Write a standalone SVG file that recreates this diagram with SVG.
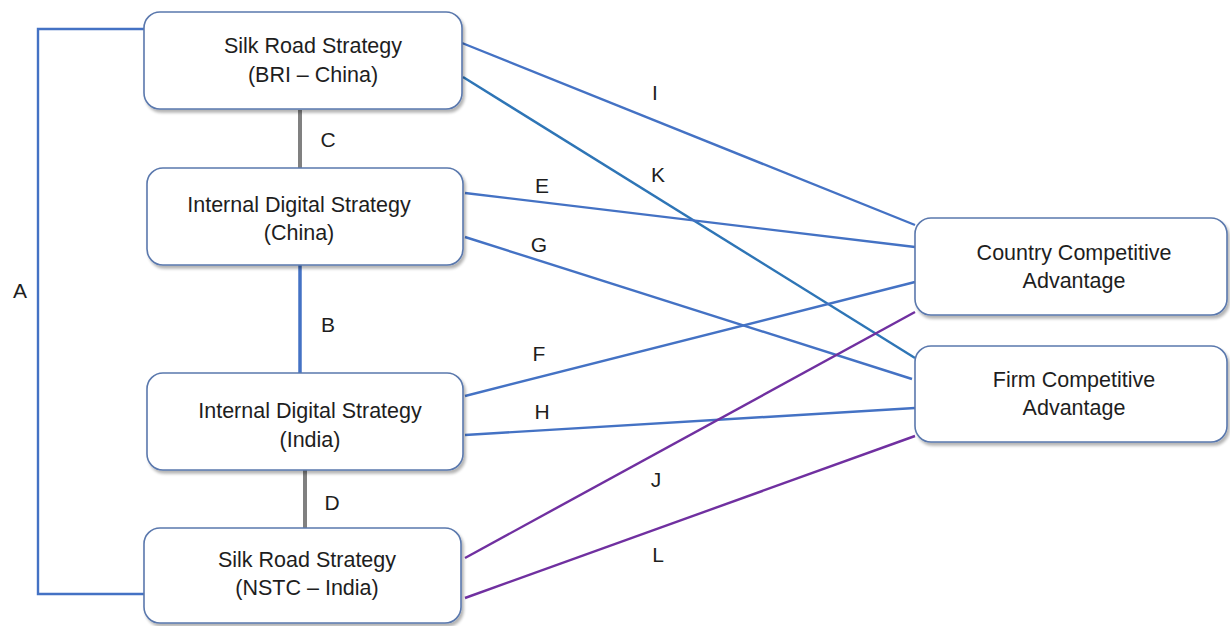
<svg xmlns="http://www.w3.org/2000/svg" width="1230" height="626" viewBox="0 0 1230 626">
  <style>
    .box { fill: #ffffff; stroke: #5a78ad; stroke-width: 1.6; filter: url(#shadow); }
    .node-text { font-family: "Liberation Sans", Arial, sans-serif; font-size: 21.5px; fill: #1e1e1e; text-anchor: middle; }
    .lbl { font-family: "Liberation Sans", Arial, sans-serif; font-size: 21px; fill: #1e1e1e; text-anchor: middle; }
    .blue { stroke: #4472c4; stroke-width: 2.4; fill: none; }
    .teal { stroke: #2e75b6; stroke-width: 2.4; fill: none; }
    .purple { stroke: #7030a0; stroke-width: 2.4; fill: none; }
    .gray { stroke: #808080; stroke-width: 4; fill: none; }
    .thick-blue { stroke: #4472c4; stroke-width: 3.5; fill: none; }
  </style>
  <defs>
    <filter id="shadow" x="-5%" y="-5%" width="115%" height="125%">
      <feGaussianBlur in="SourceAlpha" stdDeviation="1.5"/>
      <feOffset dx="2" dy="3" result="off"/>
      <feComponentTransfer><feFuncA type="linear" slope="0.3"/></feComponentTransfer>
      <feMerge><feMergeNode/><feMergeNode in="SourceGraphic"/></feMerge>
    </filter>
  </defs>

  <!-- connectors -->
  <g id="connectors">
    <polyline class="blue" points="144,29 38,29 38,594 144,594"/>
    <line class="gray" x1="300" y1="110" x2="300" y2="168"/>
    <line class="thick-blue" x1="300" y1="265" x2="300" y2="373"/>
    <line class="gray" x1="305" y1="470" x2="305" y2="528"/>
    <line class="blue" x1="462" y1="43" x2="915" y2="225"/>
    <line class="teal" x1="463" y1="77" x2="915" y2="358"/>
    <line class="blue" x1="465" y1="193" x2="915" y2="247"/>
    <line class="blue" x1="465" y1="237" x2="912" y2="379"/>
    <line class="blue" x1="465" y1="396" x2="915" y2="282"/>
    <line class="blue" x1="465" y1="435" x2="915" y2="408"/>
    <line class="purple" x1="465" y1="558" x2="915" y2="312"/>
    <line class="purple" x1="465" y1="598" x2="915" y2="436"/>
    <text class="lbl" x="20" y="298">A</text>
    <text class="lbl" x="328" y="147">C</text>
    <text class="lbl" x="328" y="332">B</text>
    <text class="lbl" x="332" y="510">D</text>
    <text class="lbl" x="655" y="100">I</text>
    <text class="lbl" x="658" y="182">K</text>
    <text class="lbl" x="542" y="193">E</text>
    <text class="lbl" x="539" y="252">G</text>
    <text class="lbl" x="539" y="361">F</text>
    <text class="lbl" x="542" y="419">H</text>
    <text class="lbl" x="656" y="487">J</text>
    <text class="lbl" x="658" y="562">L</text>
  </g>

  <g id="silk-road-bri">
    <rect class="box" x="144" y="12" width="318" height="97" rx="16"/>
    <text class="node-text" x="313" y="53">Silk Road Strategy</text>
    <text class="node-text" x="313" y="82">(BRI – China)</text>
  </g>
  <g id="digital-china">
    <rect class="box" x="147" y="168" width="316" height="97" rx="16"/>
    <text class="node-text" x="299" y="212">Internal Digital Strategy</text>
    <text class="node-text" x="299" y="240">(China)</text>
  </g>
  <g id="digital-india">
    <rect class="box" x="147" y="373" width="316" height="97" rx="16"/>
    <text class="node-text" x="310" y="418">Internal Digital Strategy</text>
    <text class="node-text" x="310" y="447">(India)</text>
  </g>
  <g id="silk-road-nstc">
    <rect class="box" x="144" y="528" width="317" height="95" rx="16"/>
    <text class="node-text" x="307" y="567">Silk Road Strategy</text>
    <text class="node-text" x="307" y="595">(NSTC – India)</text>
  </g>
  <g id="country-advantage">
    <rect class="box" x="915" y="218" width="312" height="97" rx="16"/>
    <text class="node-text" x="1074" y="260">Country Competitive</text>
    <text class="node-text" x="1074" y="288">Advantage</text>
  </g>
  <g id="firm-advantage">
    <rect class="box" x="915" y="346" width="312" height="96" rx="16"/>
    <text class="node-text" x="1074" y="387">Firm Competitive</text>
    <text class="node-text" x="1074" y="415">Advantage</text>
  </g>
</svg>
